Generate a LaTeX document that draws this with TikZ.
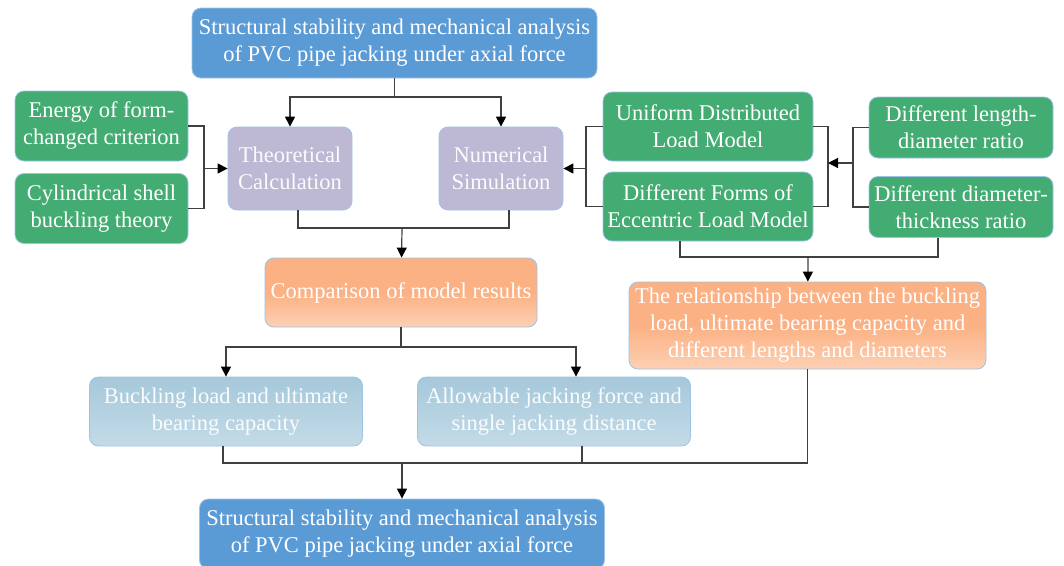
\documentclass[tikz,border=0pt]{standalone}
\usepackage{fontspec}
\setmainfont{Liberation Serif}
\newfontfamily\boxfont{Liberation Serif}
\usetikzlibrary{shapes.geometric, arrows.meta}
\definecolor{goalblue}{HTML}{5B9BD5}
\definecolor{basegreen}{HTML}{43AC72}
\definecolor{methodlilac}{HTML}{BDB8D4}
\definecolor{resultorange}{HTML}{FBB183}
\definecolor{resultlight}{HTML}{FDD0B4}
\definecolor{outtop}{HTML}{A5C8DA}
\definecolor{outbottom}{HTML}{C3DBE7}
\definecolor{rim}{HTML}{9DC3E6}
\definecolor{wire}{HTML}{404040}
\tikzstyle{box} = [rectangle, rounded corners=9pt, text centered, align=center, draw=rim, line width=0.8pt, inner sep=3pt, text=white, font=\boxfont\fontsize{22.5}{27}\selectfont]
\tikzstyle{goal} = [box, minimum width=405pt, minimum height=70pt, fill=goalblue]
\tikzstyle{basis} = [box, minimum width=173pt, minimum height=70pt, fill=basegreen]
\tikzstyle{method} = [box, minimum width=124pt, minimum height=83pt, fill=methodlilac, text=white!94!methodlilac]
\tikzstyle{model} = [box, minimum width=210pt, minimum height=69pt, fill=basegreen]
\tikzstyle{factor} = [box, minimum width=184pt, minimum height=61pt, fill=basegreen]
\tikzstyle{result} = [box, top color=resultorange, bottom color=resultlight, middle color=resultorange]
\tikzstyle{output} = [box, minimum width=273pt, minimum height=69pt, top color=outtop, bottom color=outbottom, text=white!94!outtop]
\tikzstyle{line} = [line width=1.2pt, draw=wire]
\tikzstyle{edge} = [line, -{Triangle[length=10pt,width=10pt,black]}]

\begin{document}
\begin{tikzpicture}[x=1pt, y=-1pt]
\useasboundingbox (0,0) rectangle (1064,565);

\node (0) [goal] at (394.5,43) {Structural stability and mechanical analysis\\of PVC pipe jacking under axial force};
\node (1) [basis] at (101.5,126) {Energy of form-\\changed criterion};
\node (2) [basis] at (101.5,208.5) {Cylindrical shell\\buckling theory};
\node (3) [method] at (290,168.5) {Theoretical\\Calculation};
\node (4) [method] at (501,168.5) {Numerical\\Simulation};
\node (5) [model] at (708,126.5) {Uniform Distributed\\Load Model};
\node (6) [model] at (708,206.5) {Different Forms of\\Eccentric Load Model};
\node (7) [factor] at (961,127.5) {Different length-\\diameter ratio};
\node (8) [factor] at (961,207) {Different diameter-\\thickness ratio};
\node (9) [result, minimum width=272pt, minimum height=69pt] at (401,292.5) {Comparison of model results};
\node (10) [result, minimum width=357pt, minimum height=87pt] at (807.5,325.5) {The relationship between the buckling\\load, ultimate bearing capacity and\\different lengths and diameters};
\node (11) [output] at (226,411.5) {Buckling load and ultimate\\bearing capacity};
\node (12) [output] at (554,411.5) {Allowable jacking force and\\single jacking distance};
\node (13) [goal] at (402,534) {Structural stability and mechanical analysis\\of PVC pipe jacking under axial force};

% joints
\coordinate (t) at (394.5,97);
\coordinate (l) at (204,168.5);
\coordinate (m) at (586,168.5);
\coordinate (q) at (828,163);
\coordinate (r) at (853,163);
\coordinate (c) at (402,228);
\coordinate (d) at (808,257);
\coordinate (e) at (401,347);
\coordinate (f) at (402,463);

\draw [line] (0) -- (t);
\draw [edge] (t) -| (3);
\draw [edge] (t) -| (4);
\draw [line] (1.east) -| (l);
\draw [line] (2.east) -| (l);
\draw [edge] (l) -- (3.west);
\draw [line] (5.west) -| (m);
\draw [line] (6.west) -| (m);
\draw [edge] (m) -- (4.east);
\draw [line] (5.east) -| (q);
\draw [line] (6.east) -| (q);
\draw [line] (7.west) -| (r);
\draw [line] (8.west) -| (r);
\draw [edge] (r) -- (q);
\draw [line] ([xshift=8pt]3.south) |- (c);
\draw [line] ([xshift=8pt]4.south) |- (c);
\draw [edge] (c) -- (9);
\draw [line] ([xshift=-28pt]6.south) |- (d);
\draw [line] ([xshift=-23pt]8.south) |- (d);
\draw [edge] (d) -- (10);
\draw [line] (9) -- (e);
\draw [edge] (e) -| (11);
\draw [edge] (e) -| ([xshift=22pt]12.north);
\draw [line] ([xshift=-3pt]11.south) |- (f);
\draw [line] (10) |- (f);
\draw [line] ([xshift=28pt]12.south) -- ([xshift=28pt]12.south |- f);
\draw [edge] (f) -- (13);

\end{tikzpicture}
\end{document}
